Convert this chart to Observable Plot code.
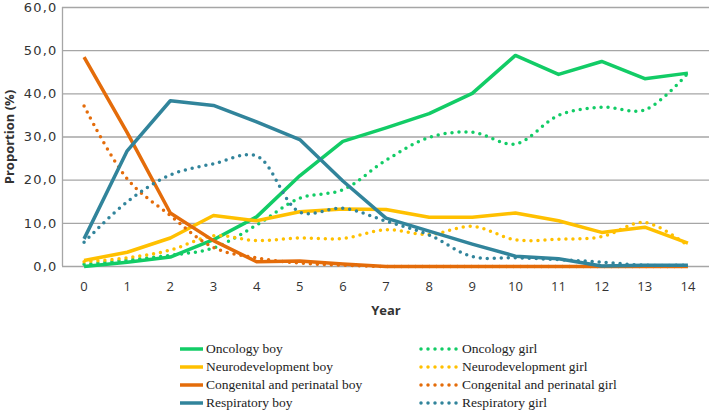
<!DOCTYPE html>
<html>
<head>
<meta charset="utf-8">
<script src="https://cdn.jsdelivr.net/npm/d3@7"></script>
<script src="https://cdn.jsdelivr.net/npm/@observablehq/plot@0.6"></script>
<style>
  html, body { margin: 0; padding: 0; background: #fff; }
  #wrap { position: relative; width: 709px; height: 410px; overflow: hidden; }
  #chart svg { overflow: visible; }
  #legend { position: absolute; left: 0; top: 340px; width: 709px; font-family: "Liberation Serif", serif; font-size: 13.5px; color: #222; }
  .item { position: absolute; display: flex; align-items: center; height: 18px; white-space: nowrap; }
  .item svg { margin-right: 3px; }
  .yt text { letter-spacing: 1.2px; }
</style>
</head>
<body>
<div id="wrap">
  <div id="chart"></div>
  <div id="legend"></div>
</div>
<script>
const years = [0, 1, 2, 3, 4, 5, 6, 7, 8, 9, 10, 11, 12, 13, 14];
const yTicks = [0, 10, 20, 30, 40, 50, 60];

const oncologyBoy   = [0.0, 1.0, 2.2, 6.2, 11.5, 21.0, 29.0, 32.1, 35.4, 40.1, 48.9, 44.5, 47.5, 43.5, 44.8];
const oncologyGirl  = [0.5, 1.5, 2.6, 4.3, 9.6, 15.8, 17.8, 24.6, 29.9, 31.1, 28.4, 35.0, 36.9, 36.3, 44.8];
const neuroBoy      = [1.4, 3.3, 6.6, 11.8, 10.6, 12.7, 13.3, 13.2, 11.4, 11.4, 12.4, 10.6, 7.9, 9.1, 5.4];
const neuroGirl     = [1.1, 2.0, 3.8, 7.1, 6.0, 6.6, 6.5, 8.5, 7.4, 9.3, 6.2, 6.3, 6.9, 10.2, 4.8];
const congBoy       = [48.5, 31.0, 12.4, 6.0, 1.1, 1.3, 0.6, 0.0, 0.0, 0.0, 0.0, 0.0, 0.0, 0.0, 0.0];
const congGirl      = [37.2, 20.3, 11.8, 4.4, 2.0, 0.8, 0.3, 0.0, 0.0, 0.0, 0.0, 0.0, 0.0, 0.0, 0.0];
const respBoy       = [6.4, 26.8, 38.4, 37.3, 33.5, 29.4, 19.8, 11.2, 8.2, 5.2, 2.4, 1.8, 0.1, 0.3, 0.3];
const respGirl      = [5.6, 15.0, 21.2, 23.8, 25.6, 12.6, 13.5, 10.5, 7.3, 2.3, 2.0, 1.6, 1.0, 0.3, 0.3];

const seriesNames = ["Oncology boy", "Oncology girl", "Neurodevelopment boy", "Neurodevelopment girl",
  "Congenital and perinatal boy", "Congenital and perinatal girl", "Respiratory boy", "Respiratory girl"];
const seriesValues = [oncologyBoy, oncologyGirl, neuroBoy, neuroGirl, congBoy, congGirl, respBoy, respGirl];
const seriesColors = ["#12CC66", "#12CC66", "#FFC000", "#FFC000", "#E46C0A", "#E46C0A", "#31849B", "#31849B"];
const seriesDotted = [false, true, false, true, false, true, false, true];

const fmt = d => d.toFixed(1).replace(".", ",");

const marks = [
  Plot.gridY(yTicks, {stroke: "#a6a6a6", strokeOpacity: 1, strokeWidth: 1.3}),
  Plot.ruleX([-0.5], {stroke: "#a6a6a6", strokeWidth: 1.3}),
  Plot.axisY({ticks: yTicks, tickSize: 0, tickPadding: 5, tickFormat: fmt, label: null, fontSize: 13, fontFamily: "'DejaVu Sans', sans-serif", className: "yt"}),
  Plot.axisX({ticks: years, tickSize: 0, tickPadding: 15, label: null, fontSize: 13}),
  Plot.text(["Year"], {frameAnchor: "bottom", dy: 48, fontWeight: "bold", fontSize: 13}),
  Plot.text(["Proportion (%)"], {frameAnchor: "left", textAnchor: "middle", dx: -53, rotate: -90, fontWeight: "bold", fontSize: 13})
];

seriesValues.forEach((vals, i) => {
  const data = years.map((y, j) => ({year: y, value: vals[j]}));
  marks.push(Plot.line(data, {
    x: "year", y: "value",
    stroke: seriesColors[i],
    strokeWidth: 3.5,
    curve: seriesDotted[i] ? "catmull-rom" : "linear",
    strokeDasharray: seriesDotted[i] ? "0 7" : null,
    strokeLinecap: seriesDotted[i] ? "round" : "butt",
    strokeLinejoin: "round"
  }));
});

const chart = Plot.plot({
  width: 709,
  height: 325,
  marginLeft: 62,
  marginRight: 0,
  marginTop: 7,
  marginBottom: 59,
  style: {fontFamily: "'Open Sans', sans-serif", color: "#333", background: "#fff", overflow: "visible"},
  x: {domain: [-0.5, 14.5]},
  y: {domain: [0, 60]},
  marks
});
document.getElementById("chart").appendChild(chart);

// Legend
const legend = document.getElementById("legend");
seriesNames.forEach((name, i) => {
  const col = i % 2, row = Math.floor(i / 2);
  const div = document.createElement("div");
  div.className = "item";
  div.style.left = (col === 0 ? 180 : 419) + "px";
  div.style.top = (row * 18) + "px";
  const w = col === 0 ? 23 : 40;
  const sw = seriesDotted[i]
    ? `<svg width="${w}" height="8"><line x1="2" y1="4" x2="${w - 2}" y2="4" stroke="${seriesColors[i]}" stroke-width="3.5" stroke-linecap="round" stroke-dasharray="0 7"/></svg>`
    : `<svg width="${w}" height="8"><line x1="0" y1="4" x2="${w}" y2="4" stroke="${seriesColors[i]}" stroke-width="3.5"/></svg>`;
  div.innerHTML = sw + `<span>${name}</span>`;
  legend.appendChild(div);
});
</script>
</body>
</html>
